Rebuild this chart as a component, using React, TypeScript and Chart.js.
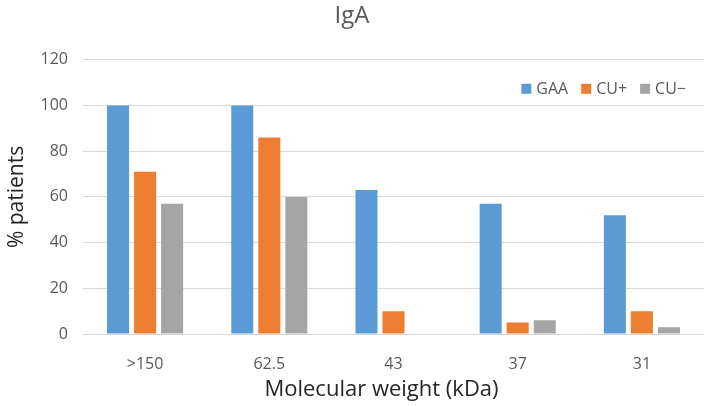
import React, { useEffect, useRef } from "react";
import { Chart, registerables } from "chart.js";

Chart.register(...registerables);

const categories = [">150", "62.5", "43", "37", "31"];
const seriesNames = ["GAA", "CU+", "CU\u2212"];
const gaaValues = [100, 100, 63, 57, 52];
const cuPlusValues = [71, 86, 10, 5, 10];
const cuMinusValues = [57, 60, 0, 6, 3];
const seriesColors = ["#5B9BD5", "#ED7D31", "#A5A5A5"];
const yTicks = [0, 20, 40, 60, 80, 100, 120];
const xTitle = "Molecular weight (kDa)";

const FONT = "'Open Sans', 'Noto Sans', sans-serif";

const extras = {
  id: "extras",
  afterDraw(chart: any) {
    const ctx = chart.ctx;
    const area = chart.chartArea;
    ctx.save();
    // legend inside plot area
    ctx.font = `16px ${FONT}`;
    ctx.textBaseline = "middle";
    const box = 10;
    const gapBoxText = 5;
    const gapItems = 13;
    const items = chart.data.datasets.map((d: any) => ({
      text: d.label,
      color: d.backgroundColor,
      w: ctx.measureText(d.label).width,
    }));
    let total = 0;
    items.forEach((it: any, i: number) => {
      total += box + gapBoxText + it.w + (i < items.length - 1 ? gapItems : 0);
    });
    let x = area.right - 18 - total;
    const y = area.top + 29;
    items.forEach((it: any) => {
      ctx.fillStyle = it.color;
      ctx.fillRect(x, y - box / 2, box, box);
      x += box + gapBoxText;
      ctx.fillStyle = "#595959";
      ctx.textAlign = "left";
      ctx.fillText(it.text, x, y + 1);
      x += it.w + gapItems;
    });
    // x axis title
    ctx.font = `22px ${FONT}`;
    ctx.fillStyle = "#262626";
    ctx.textAlign = "center";
    ctx.textBaseline = "alphabetic";
    ctx.fillText(xTitle, (area.left + area.right) / 2 - 12, 396);
    ctx.restore();
  },
};

export default function App() {
  const ref = useRef<HTMLCanvasElement | null>(null);

  useEffect(() => {
    if (!ref.current) return;
    const values = [gaaValues, cuPlusValues, cuMinusValues];
    const chart = new Chart(ref.current, {
      type: "bar",
      data: {
        labels: categories,
        datasets: seriesNames.map((name, i) => ({
          label: name,
          data: values[i],
          backgroundColor: seriesColors[i],
          borderWidth: 0,
          categoryPercentage: 0.653,
          barPercentage: 0.815,
        })),
      },
      options: {
        animation: false,
        responsive: false,
        maintainAspectRatio: false,
        layout: { padding: { left: 0, right: 7, top: 0, bottom: 0 } },
        plugins: {
          legend: { display: false },
          tooltip: { enabled: false },
          title: {
            display: true,
            text: "IgA",
            color: "#595959",
            font: { family: FONT, size: 24, weight: "normal" },
            padding: { top: 2, bottom: 29 },
          },
        },
        scales: {
          x: {
            grid: { display: false },
            border: { display: false },
            ticks: {
              color: "#595959",
              font: { family: FONT, size: 16 },
              padding: 13,
            },
            afterFit: (scale: any) => {
              scale.height = 72;
            },
          },
          y: {
            min: 0,
            max: 120,
            afterBuildTicks: (scale: any) => {
              scale.ticks = yTicks.map((v) => ({ value: v }));
            },
            grid: { color: "#D9D9D9", lineWidth: 1, drawTicks: false },
            border: { display: false },
            ticks: {
              color: "#595959",
              font: { family: FONT, size: 16 },
              padding: 15,
            },
            title: {
              display: true,
              text: "% patients",
              color: "#262626",
              font: { family: FONT, size: 21 },
              padding: { top: 4, bottom: 4 },
            },
            afterFit: (scale: any) => {
              scale.width = 83;
            },
          },
        },
      },
      plugins: [extras],
    });
    return () => chart.destroy();
  }, []);

  return (
    <div style={{ position: "fixed", left: 0, top: 0, width: 711, height: 406, background: "#fff" }}>
      <canvas ref={ref} width={711} height={406} />
    </div>
  );
}
